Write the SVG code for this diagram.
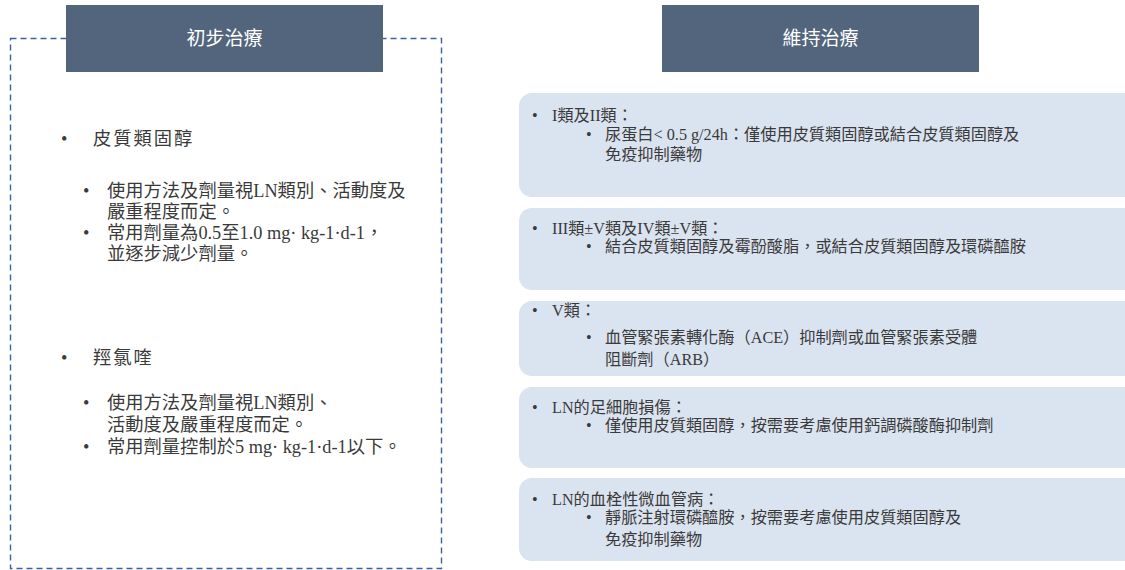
<svg xmlns="http://www.w3.org/2000/svg" width="1125" height="570" viewBox="0 0 1125 570">
<style>
.hdr{fill:#52657d}
.hdrt{fill:#ffffff;font-family:"Noto Sans CJK TC","Noto Sans",sans-serif;font-size:19px;text-anchor:middle}
.panel{fill:#dae3f0}
.t{fill:#3a3a3a;font-family:"Liberation Serif","Noto Sans CJK TC",serif;font-size:16.2px}
.l{fill:#3a3a3a;font-family:"Liberation Serif","Noto Sans CJK TC",serif;font-size:18.3px}
.ttl{fill:#3a3a3a;font-family:"Liberation Serif","Noto Sans CJK TC",serif;font-size:18.3px;letter-spacing:2px}
.dash{fill:none;stroke:#3a62a0;stroke-width:1.4;stroke-dasharray:6 4}
</style>
<g id="connectors"></g>
<g id="initial-frame">
<rect class="dash" x="10.5" y="38.5" width="431" height="530"/>
</g>
<g id="header-initial">
<rect class="hdr" x="66" y="5" width="317" height="67"/>
<text class="hdrt" x="224.5" y="45">初步治療</text>
</g>
<g id="header-maintenance">
<rect class="hdr" x="662" y="5" width="317" height="67"/>
<text class="hdrt" x="820.5" y="45">維持治療</text>
</g>
<g id="initial-steroids">
<text class="l" x="61" y="145">•</text>
<text class="ttl" x="93" y="145">皮質類固醇</text>
<text class="l" x="83" y="197">•</text>
<text class="l" x="107" y="197">使用方法及劑量視LN類別、活動度及</text>
<text class="l" x="107" y="218">嚴重程度而定。</text>
<text class="l" x="83" y="239">•</text>
<text class="l" x="107" y="239">常用劑量為0.5至1.0 mg· kg-1·d-1，</text>
<text class="l" x="107" y="260">並逐步減少劑量。</text>
</g>
<g id="initial-hcq">
<text class="l" x="61" y="364">•</text>
<text class="ttl" x="93" y="364">羥氯喹</text>
<text class="l" x="83" y="409">•</text>
<text class="l" x="107" y="409">使用方法及劑量視LN類別、</text>
<text class="l" x="107" y="431">活動度及嚴重程度而定。</text>
<text class="l" x="83" y="453">•</text>
<text class="l" x="107" y="453">常用劑量控制於5 mg· kg-1·d-1以下。</text>
</g>
<g id="panel-class1-2">
<rect class="panel" x="519" y="93" width="618" height="104" rx="13"/>
<text class="t" x="532" y="121">•</text>
<text class="t" x="552" y="121">I類及II類：</text>
<text class="t" x="586" y="140">•</text>
<text class="t" x="605" y="140">尿蛋白&lt; 0.5 g/24h：僅使用皮質類固醇或結合皮質類固醇及</text>
<text class="t" x="605" y="160">免疫抑制藥物</text>
</g>
<g id="panel-class3-4">
<rect class="panel" x="519" y="208" width="618" height="82" rx="13"/>
<text class="t" x="532" y="234">•</text>
<text class="t" x="552" y="234">III類±V類及IV類±V類：</text>
<text class="t" x="586" y="252">•</text>
<text class="t" x="605" y="252">結合皮質類固醇及霉酚酸脂，或結合皮質類固醇及環磷醯胺</text>
</g>
<g id="panel-class5">
<rect class="panel" x="519" y="301" width="618" height="75" rx="13"/>
<text class="t" x="532" y="316">•</text>
<text class="t" x="552" y="316">V類：</text>
<text class="t" x="586" y="343">•</text>
<text class="t" x="605" y="343">血管緊張素轉化酶（ACE）抑制劑或血管緊張素受體</text>
<text class="t" x="605" y="365">阻斷劑（ARB）</text>
</g>
<g id="panel-podocyte">
<rect class="panel" x="519" y="387" width="618" height="81" rx="13"/>
<text class="t" x="532" y="413">•</text>
<text class="t" x="552" y="413">LN的足細胞損傷：</text>
<text class="t" x="586" y="431">•</text>
<text class="t" x="605" y="431">僅使用皮質類固醇，按需要考慮使用鈣調磷酸酶抑制劑</text>
</g>
<g id="panel-tma">
<rect class="panel" x="519" y="478" width="618" height="83" rx="13"/>
<text class="t" x="532" y="505">•</text>
<text class="t" x="552" y="505">LN的血栓性微血管病：</text>
<text class="t" x="586" y="523">•</text>
<text class="t" x="605" y="523">靜脈注射環磷醯胺，按需要考慮使用皮質類固醇及</text>
<text class="t" x="605" y="545">免疫抑制藥物</text>
</g>
</svg>
